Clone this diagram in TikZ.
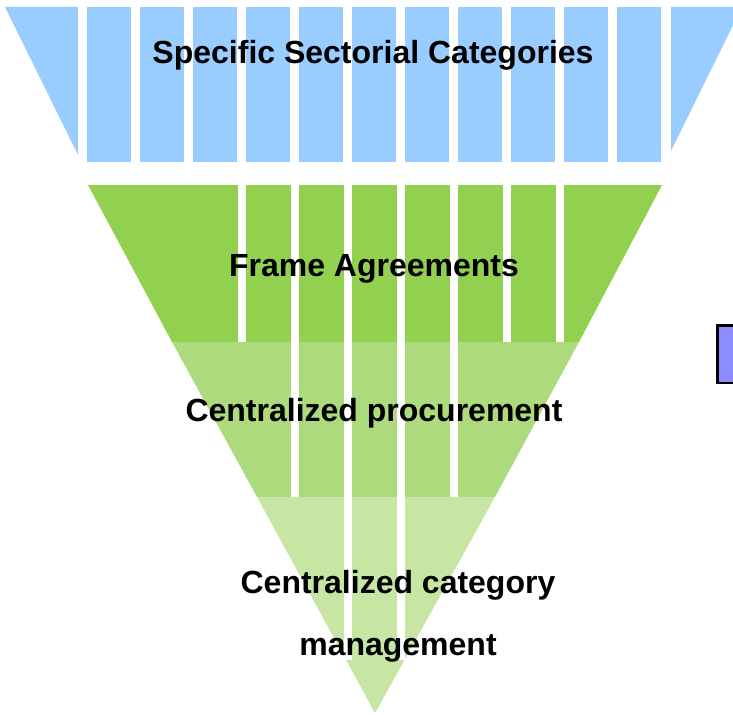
\documentclass[tikz,border=0pt]{standalone}
\usepackage{fontspec}
\setmainfont{Liberation Sans}
\definecolor{sectorblue}{HTML}{99CCFF}
\definecolor{framegreen}{HTML}{92D050}
\definecolor{procgreen}{HTML}{ADDA7D}
\definecolor{catgreen}{HTML}{C7E6A3}
\definecolor{boxpurple}{HTML}{8C8CFF}

\begin{document}
\begin{tikzpicture}[x=1bp,y=-1bp,
    funneltext/.style={font=\bfseries\fontsize{32bp}{38bp}\selectfont, anchor=base, inner sep=0pt},
    whitegap/.style={fill=white}]
    \useasboundingbox (0,0) rectangle (733,715);
    \clip (0,0) rectangle (733,715);

    % blue band: two wedges and the strips between them
    \fill[sectorblue] (5,7)--(78,7)--(78,155)--cycle;
    \foreach \i in {0,...,10}
        \fill[sectorblue] ({87+53*\i},7) rectangle ({131+53*\i},162);
    \fill[sectorblue] (671,7)--(742,7)--(671,151)--cycle;

    % green funnel, three bands
    \fill[framegreen] (88,185)--(662,185)--(579,342)--(172,342)--cycle;
    \fill[procgreen] (172,342)--(579,342)--(495,497)--(257,497)--cycle;
    \fill[catgreen] (257,497)--(495,497)--(375,713)--cycle;

    % white gaps running down through the bands
    \foreach \k/\ybot in {3/342, 4/497, 5/660, 6/660, 7/497, 8/342, 9/342}
        \fill[whitegap] ({78.5+53*\k},185) rectangle ({87+53*\k},\ybot);

    \node[funneltext] (sectorial) at (373,64) {Specific Sectorial Categories};
    \node[funneltext] (frame) at (374,276) {Frame Agreements};
    \node[funneltext] (procurement) at (374,421) {Centralized procurement};
    \node[funneltext] (category) at (398,593) {Centralized category};
    \node[funneltext] (management) at (398,655) {management};

    % box cut by the right edge
    \draw[line width=2.5bp, fill=boxpurple] (717.5,325.5) rectangle (750,383);
\end{tikzpicture}
\end{document}
